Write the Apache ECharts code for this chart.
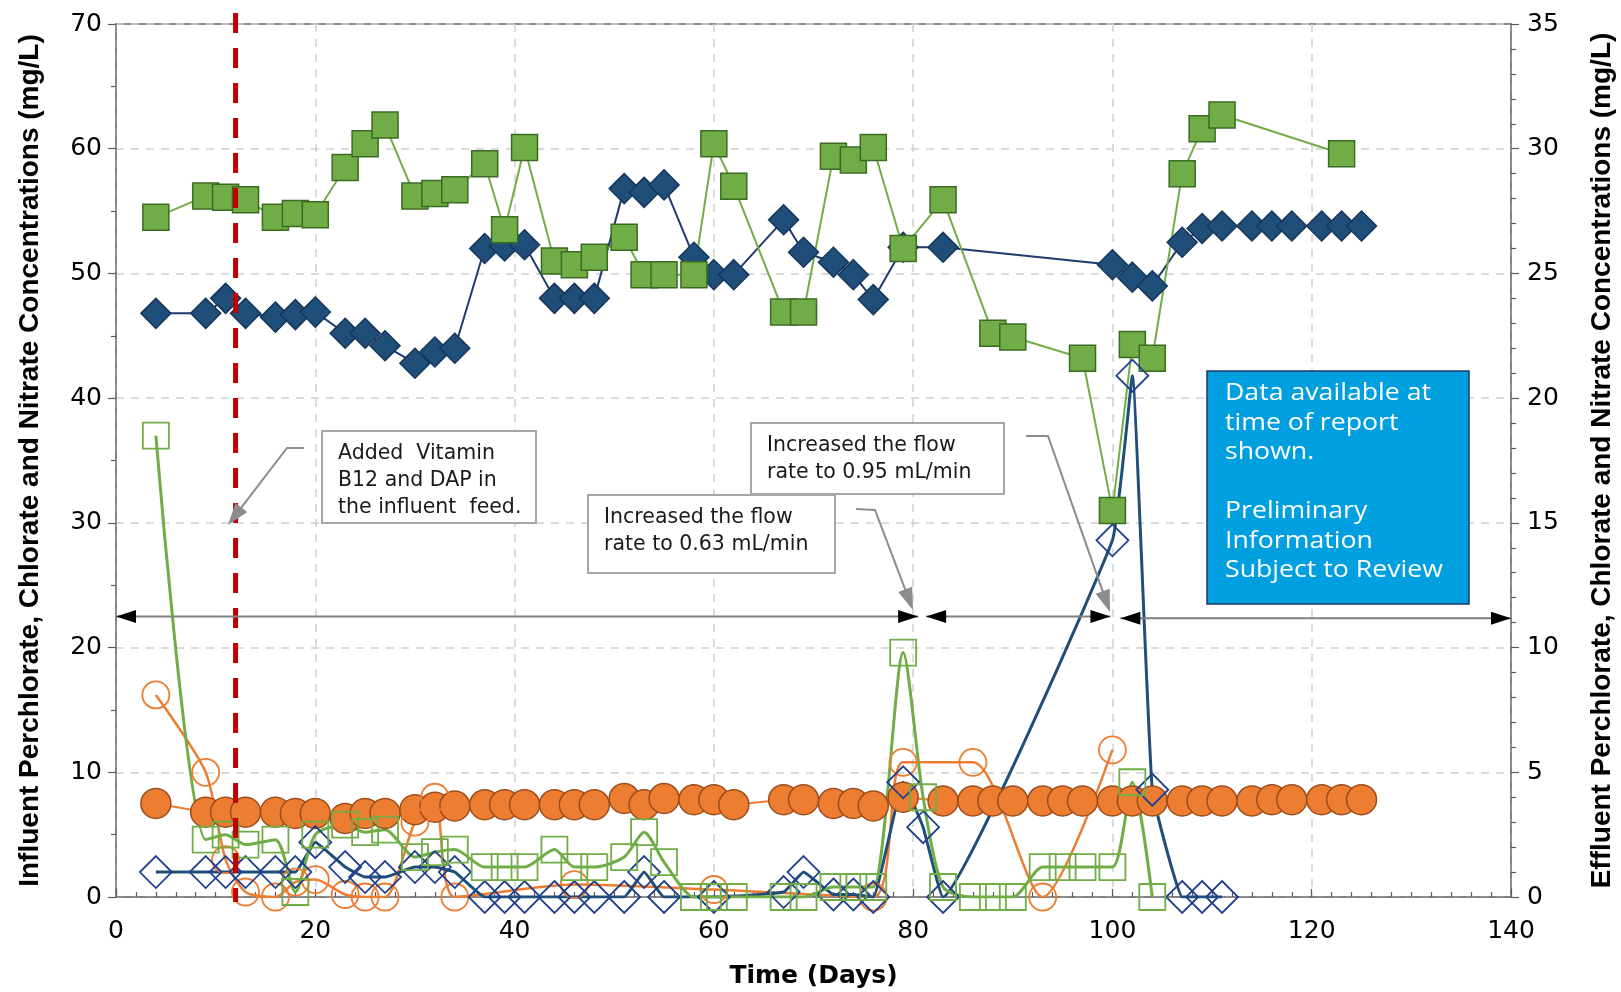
<!DOCTYPE html>
<html><head><meta charset="utf-8">
<script src="https://cdn.jsdelivr.net/npm/echarts@6/dist/echarts.min.js"></script>
<style>html,body{margin:0;padding:0;background:#fff}#c{width:1621px;height:992px}</style>
</head><body><div id="c"></div>
<script>
// ---- tick labels ----
const xTicks = [0, 20, 40, 60, 80, 100, 120, 140];
const leftTicks = [0, 10, 20, 30, 40, 50, 60, 70];
const rightTicks = [0, 5, 10, 15, 20, 25, 30, 35];

// ---- influent (left axis, mg/L) ----
const inflNitrateDays = [4,9,11,13,16,18,20,23,25,27,30,32,34,37,39,41,44,46,48,51,53,55,58,60,62,67,69,72,74,76,79,83,88,90,97,100,102,104,107,109,111,123];
const inflNitrate = [54.5,56.2,56.1,55.9,54.5,54.8,54.7,58.5,60.4,61.9,56.2,56.4,56.7,58.8,53.5,60.1,51.0,50.7,51.3,52.9,49.9,49.9,49.9,60.4,57.0,46.9,46.9,59.4,59.1,60.1,52.0,55.9,45.2,44.9,43.2,31.0,44.3,43.2,58.0,61.6,62.7,59.6];

const inflChlorateDays = [4,9,11,13,16,18,20,23,25,27,30,32,34,37,39,41,44,46,48,51,53,55,58,60,62,67,69,72,74,76,79,83,100,102,104,107,109,111,114,116,118,121,123,125];
const inflChlorate = [46.8,46.8,48.0,46.8,46.5,46.7,46.9,45.2,45.2,44.2,42.8,43.7,44.0,52.0,52.2,52.3,48.0,48.0,48.0,56.8,56.5,57.1,51.3,49.9,49.9,54.3,51.7,50.9,49.9,47.9,52.1,52.1,50.7,49.7,49.0,52.5,53.6,53.8,53.8,53.8,53.8,53.8,53.8,53.8];

const inflPerchlorateDays = [4,9,11,13,16,18,20,23,25,27,30,32,34,37,39,41,44,46,48,51,53,55,58,60,62,67,69,72,74,76,79,83,86,88,90,93,95,97,100,102,104,107,109,111,114,116,118,121,123,125];
const inflPerchlorate = [7.5,6.8,6.8,6.8,6.8,6.7,6.7,6.3,6.7,6.7,7.0,7.2,7.3,7.4,7.4,7.4,7.4,7.4,7.4,7.9,7.4,7.9,7.8,7.8,7.4,7.8,7.8,7.5,7.5,7.3,8.0,7.7,7.7,7.7,7.7,7.7,7.7,7.7,7.7,7.7,7.7,7.7,7.7,7.7,7.7,7.8,7.8,7.8,7.8,7.8];

// ---- effluent (right axis, mg/L) ----
const effPerchlorateDays = [4,9,11,13,16,18,20,23,25,27,30,32,34,46,60,76,79,86,93,100];
const effPerchlorate = [8.1,5.0,1.5,0.2,0,0.6,0.7,0.1,0,0,3.0,4.0,0,0.5,0.3,0,5.4,5.4,0,5.9];

const effChlorateDays = [4,9,11,13,16,18,20,23,25,27,30,32,34,37,39,41,44,46,48,51,53,55,60,67,69,72,74,76,79,81,83,100,102,104,107,109,111];
const effChlorate = [1.0,1.0,1.0,1.0,1.0,1.0,2.2,1.2,0.8,0.8,1.2,1.2,1.0,0,0,0,0,0,0,0,1.0,0,0,0.2,1.0,0.1,0.1,0,4.6,2.8,0,14.3,20.9,4.3,0,0,0];

const effNitrateDays = [4,9,11,13,16,18,20,23,25,27,30,32,34,37,39,41,44,46,48,51,53,55,58,60,62,67,69,72,74,76,79,81,83,86,88,90,93,95,97,100,102,104];
const effNitrate = [18.5,2.3,2.5,2.1,2.3,0.2,2.5,2.9,2.6,2.7,1.6,1.8,1.9,1.2,1.2,1.2,1.9,1.2,1.2,1.6,2.6,1.4,0,0,0,0,0,0.4,0.4,0.4,9.8,4.0,0.4,0,0,0,1.2,1.2,1.2,1.2,4.6,0];

// ---- events ----
const vitaminDay = 12;
// [startDay, endDay, leftAxisLevel] of the operating-phase double arrows
const phaseArrows = [[0, 80.5, 22.5], [81.3, 99.8, 22.5], [100.8, 140, 22.35]];

function pairs(d, v) { return d.map((x, i) => [x, v[i]]); }

const chart = echarts.init(document.getElementById('c'));
const tickFont = { fontFamily: 'DejaVu Sans', fontSize: 25, color: '#000' };
const titleFont = { fontFamily: 'Liberation Sans', fontWeight: 'bold', fontSize: 28, color: '#000' };
const dashGrid = { show: true, lineStyle: { color: '#d0d0d0', width: 1.5, type: [8, 7] } };
const axisLineStyle = { show: true, lineStyle: { color: '#7f7f7f', width: 1.5 } };
const tickStyle = { color: '#595959', width: 1.2 };

const option = {
  animation: false,
  backgroundColor: '#fff',
  grid: { left: 116, right: 110, top: 24, bottom: 95, show: true, borderColor: '#8c8c8c', borderWidth: 2, containLabel: false, outerBoundsMode: 'none' },
  xAxis: {
    type: 'value', min: xTicks[0], max: xTicks[xTicks.length - 1], interval: xTicks[1] - xTicks[0],
    name: 'Time (Days)', nameLocation: 'middle', nameGap: 67,
    nameTextStyle: { fontFamily: 'DejaVu Sans', fontWeight: 'bold', fontSize: 25, color: '#000' },
    axisLine: axisLineStyle,
    axisTick: { show: true, inside: true, length: 8, lineStyle: tickStyle },
    minorTick: { show: true, splitNumber: 10, length: 5, lineStyle: tickStyle },
    axisLabel: Object.assign({ margin: 22 }, tickFont),
    splitLine: dashGrid
  },
  yAxis: [
    {
      type: 'value', min: leftTicks[0], max: leftTicks[leftTicks.length - 1], interval: leftTicks[1] - leftTicks[0],
      name: 'Influent Perchlorate, Chlorate and Nitrate Concentrations (mg/L)', nameLocation: 'middle', nameGap: 72, nameRotate: 90,
      nameTextStyle: titleFont,
      axisLine: axisLineStyle,
      axisTick: { show: true, length: 8, lineStyle: tickStyle },
      minorTick: { show: true, splitNumber: 2, length: 5, lineStyle: tickStyle },
      axisLabel: Object.assign({ margin: 14 }, tickFont),
      splitLine: dashGrid
    },
    {
      type: 'value', position: 'right', min: rightTicks[0], max: rightTicks[rightTicks.length - 1], interval: rightTicks[1] - rightTicks[0],
      name: 'Effluent Perchlorate, Chlorate and Nitrate Concentrations (mg/L)', nameLocation: 'middle', nameGap: 77, nameRotate: 90,
      nameTextStyle: titleFont,
      axisLine: axisLineStyle,
      axisTick: { show: true, length: 8, lineStyle: tickStyle },
      minorTick: { show: true, splitNumber: 5, length: 5, lineStyle: tickStyle },
      axisLabel: Object.assign({ margin: 16 }, tickFont),
      splitLine: { show: false }
    }
  ],
  series: [
    { name: 'Influent Chlorate', type: 'line', yAxisIndex: 0, data: pairs(inflChlorateDays, inflChlorate),
      symbol: 'diamond', symbolSize: 30, showAllSymbol: true,
      itemStyle: { color: '#1F4E79', borderColor: '#16365C', borderWidth: 1.5 },
      lineStyle: { color: '#1F3A6E', width: 2 } },
    { name: 'Influent Nitrate', type: 'line', yAxisIndex: 0, data: pairs(inflNitrateDays, inflNitrate),
      symbol: 'rect', symbolSize: 26, showAllSymbol: true,
      itemStyle: { color: '#70AD47', borderColor: '#3B6B23', borderWidth: 1.5 },
      lineStyle: { color: '#70AD47', width: 2 } },
    { name: 'Influent Perchlorate', type: 'line', yAxisIndex: 0, data: pairs(inflPerchlorateDays, inflPerchlorate),
      symbol: 'circle', symbolSize: 30, showAllSymbol: true,
      itemStyle: { color: '#ED7D31', borderColor: '#9C4E1C', borderWidth: 1.5 },
      lineStyle: { color: '#ED7D31', width: 2 } },
    { name: 'Effluent Perchlorate', type: 'line', yAxisIndex: 1, data: pairs(effPerchlorateDays, effPerchlorate),
      symbol: 'circle', symbolSize: 27, showAllSymbol: true, smooth: 0.25,
      itemStyle: { color: 'rgba(0,0,0,0)', borderColor: '#ED7D31', borderWidth: 1.8 },
      lineStyle: { color: '#ED7D31', width: 2.5 } },
    { name: 'Effluent Chlorate', type: 'line', yAxisIndex: 1, data: pairs(effChlorateDays, effChlorate),
      symbol: 'diamond', symbolSize: 32, showAllSymbol: true, smooth: 0.1,
      itemStyle: { color: 'rgba(0,0,0,0)', borderColor: '#203F8C', borderWidth: 1.8 },
      lineStyle: { color: '#1F4E79', width: 3 } },
    { name: 'Effluent Nitrate', type: 'line', yAxisIndex: 1, data: pairs(effNitrateDays, effNitrate),
      symbol: 'rect', symbolSize: 26, showAllSymbol: true, smooth: 0.25,
      itemStyle: { color: 'rgba(0,0,0,0)', borderColor: '#70AD47', borderWidth: 1.8 },
      lineStyle: { color: '#70AD47', width: 3 } }
  ]
};
chart.setOption(option);

// ---- annotations ----
const toPx = (x, y) => chart.convertToPixel({ xAxisIndex: 0, yAxisIndex: 0 }, [x, y]);
const G = [];

function head(tip, from, L, W, fill) {
  const dx = tip[0] - from[0], dy = tip[1] - from[1], len = Math.hypot(dx, dy);
  const ux = dx / len, uy = dy / len, nx = -uy, ny = ux;
  const bx = tip[0] - ux * L, by = tip[1] - uy * L;
  G.push({ type: 'polygon', z: 120, shape: { points: [tip, [bx + nx * W / 2, by + ny * W / 2], [bx - nx * W / 2, by - ny * W / 2]] }, style: { fill: fill } });
  return [bx + ux * 2, by + uy * 2];
}

// red dashed event line
const pTop = toPx(vitaminDay, leftTicks[leftTicks.length - 1]);
const pBot = toPx(vitaminDay, leftTicks[0]);
G.push({ type: 'line', z: 90, shape: { x1: pTop[0], y1: pTop[1] - 11, x2: pBot[0], y2: pBot[1] + 5 },
  style: { stroke: '#C00000', lineWidth: 5, lineDash: [20, 15] } });

// phase arrows
phaseArrows.forEach(a => {
  const p0 = toPx(a[0], a[2]), p1 = toPx(a[1], a[2]);
  G.push({ type: 'line', z: 110, shape: { x1: p0[0], y1: p0[1], x2: p1[0], y2: p1[1] }, style: { stroke: '#808080', lineWidth: 2 } });
  head(p0, p1, 20, 13, '#000');
  head(p1, p0, 20, 13, '#000');
});

// callout boxes
const boxes = [
  { x: 322, y: 431, w: 214, h: 92, tx: 338, ty: 440, text: 'Added  Vitamin\nB12 and DAP in\nthe influent  feed.' },
  { x: 588, y: 495, w: 247, h: 78, tx: 604, ty: 504, text: 'Increased the flow\nrate to 0.63 mL/min' },
  { x: 751, y: 423, w: 253, h: 71, tx: 767, ty: 432, text: 'Increased the flow\nrate to 0.95 mL/min' }
];
boxes.forEach(b => {
  G.push({ type: 'rect', z: 130, shape: { x: b.x, y: b.y, width: b.w, height: b.h }, style: { fill: '#fff', stroke: '#a6a6a6', lineWidth: 2 } });
  G.push({ type: 'text', z: 131, style: { x: b.tx, y: b.ty, text: b.text, fill: '#1a1a1a', fontFamily: 'DejaVu Sans', fontSize: 20.5, lineHeight: 27, verticalAlign: 'top' } });
});

// callout leader arrows (gray)
const leaders = [
  [[304, 448], [287, 448], [228, 525]],
  [[856, 509], [875, 510], [913, 610]],
  [[1026, 436], [1048, 436], [1110, 612]]
];
leaders.forEach(pts => {
  const tip = pts[pts.length - 1], prev = pts[pts.length - 2];
  const base = head(tip, prev, 22, 15, '#8c8c8c');
  const linePts = pts.slice(0, -1).concat([base]);
  G.push({ type: 'polyline', z: 119, shape: { points: linePts }, style: { stroke: '#8c8c8c', lineWidth: 2, fill: null } });
});

// blue notice box
G.push({ type: 'rect', z: 130, shape: { x: 1207, y: 371, width: 262, height: 233 }, style: { fill: '#009FDF', stroke: '#1F3864', lineWidth: 1.5 } });
G.push({ type: 'text', z: 131, x: 1225, y: 379, scaleX: 1.16, scaleY: 1,
  style: { x: 0, y: 0, text: 'Data available at\ntime of report\nshown.\n\nPreliminary\nInformation\nSubject to Review',
  fill: '#fff', fontFamily: 'Open Sans', fontSize: 23, lineHeight: 29.5, verticalAlign: 'top' } });

chart.setOption({ graphic: G });
</script></body></html>
